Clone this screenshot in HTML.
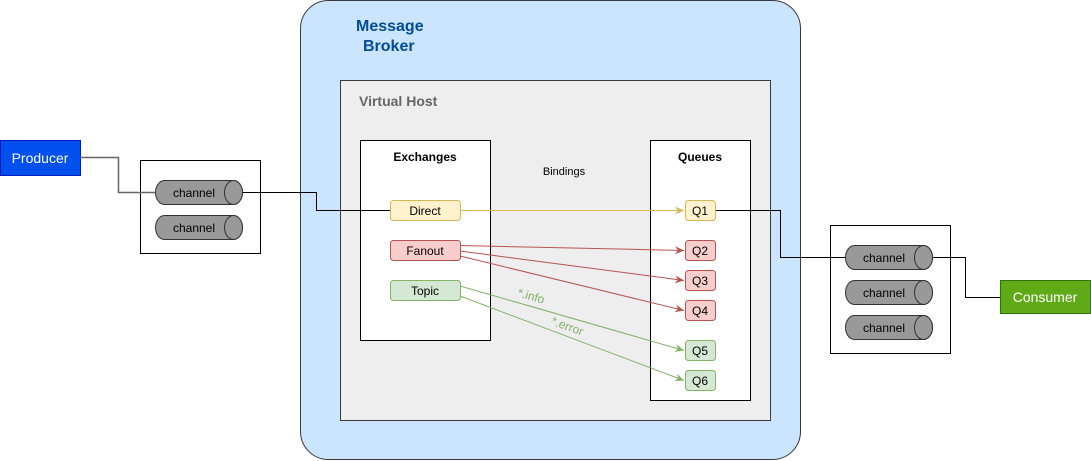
<!DOCTYPE html>
<html><head><style>html,body{margin:0;padding:0;background:#fff}svg{display:block;font-family:"Liberation Sans",Arial,sans-serif}</style></head><body>
<svg width="1091" height="461" viewBox="0 0 1091 461" xmlns="http://www.w3.org/2000/svg">
<defs>
<marker id="ay" markerWidth="10" markerHeight="10" refX="9" refY="5" orient="auto" markerUnits="userSpaceOnUse"><path d="M0,1 L9,5 L0,9 L3,5 z" fill="#d6b656"/></marker>
<marker id="ar" markerWidth="10" markerHeight="10" refX="9" refY="5" orient="auto" markerUnits="userSpaceOnUse"><path d="M0,1 L9,5 L0,9 L3,5 z" fill="#b85450"/></marker>
<marker id="ag" markerWidth="10" markerHeight="10" refX="9" refY="5" orient="auto" markerUnits="userSpaceOnUse"><path d="M0,1 L9,5 L0,9 L3,5 z" fill="#82b366"/></marker>
<g id="cyl"><path d="M9,0 H78 A9,12 0 0 1 78,24 H9 A9,12 0 0 1 9,0 Z" fill="#999" stroke="#333"/><ellipse cx="78" cy="12" rx="9" ry="12" fill="#999" stroke="#333"/></g>
</defs>
<rect x="300.5" y="0.5" width="500" height="459" rx="28" fill="#cce5ff" stroke="#36393d"/>
<text x="356" y="31" font-size="16" font-weight="bold" fill="#004C99">Message</text>
<text x="363" y="51" font-size="16" font-weight="bold" fill="#004C99">Broker</text>
<rect x="340.5" y="80.5" width="430" height="340" fill="#eeeeee" stroke="#36393d"/>
<text x="359" y="106" font-size="14" font-weight="bold" fill="#666">Virtual Host</text>
<rect x="360.5" y="140.5" width="130" height="200" fill="#fff" stroke="#000"/>
<text x="425" y="161" font-size="12" font-weight="bold" text-anchor="middle">Exchanges</text>
<rect x="650.5" y="140.5" width="100" height="260" fill="#fff" stroke="#000"/>
<text x="700" y="161" font-size="12" font-weight="bold" text-anchor="middle">Queues</text>
<text x="564" y="175" font-size="11" text-anchor="middle">Bindings</text>
<rect x="0.5" y="140.5" width="80" height="35" fill="#0050ef" stroke="#001DBC"/>
<text x="40" y="163" font-size="14" fill="#fff" text-anchor="middle">Producer</text>
<rect x="140.5" y="160.5" width="120" height="93" fill="#fff" stroke="#000"/>
<path d="M80,157.5 H118.5 V192.5 H155" fill="none" stroke="#666" stroke-width="1.5"/>
<path d="M242,192.5 H316.5 V210.5 H390" fill="none" stroke="#000"/>
<use href="#cyl" x="155.5" y="180.5"/><text x="194" y="197" font-size="12" text-anchor="middle">channel</text>
<use href="#cyl" x="155.5" y="215.5"/><text x="194" y="232" font-size="12" text-anchor="middle">channel</text>
<rect x="830.5" y="225.5" width="120" height="128" fill="#fff" stroke="#000"/>
<path d="M715,210.5 H780.5 V257.5 H845" fill="none" stroke="#000"/>
<path d="M932,257.5 H965.5 V297.5 H1000" fill="none" stroke="#000"/>
<use href="#cyl" x="845.5" y="245.5"/><text x="884" y="262" font-size="12" text-anchor="middle">channel</text>
<use href="#cyl" x="845.5" y="280.5"/><text x="884" y="297" font-size="12" text-anchor="middle">channel</text>
<use href="#cyl" x="845.5" y="315.5"/><text x="884" y="332" font-size="12" text-anchor="middle">channel</text>
<rect x="1000.5" y="280.5" width="90" height="33" fill="#60a917" stroke="#2D7600"/>
<text x="1045" y="302" font-size="14" fill="#fff" text-anchor="middle">Consumer</text>
<path d="M460,210.5 H684" stroke="#d6b656" marker-end="url(#ay)"/>
<path d="M460,245.5 L684,250.5" stroke="#b85450" marker-end="url(#ar)"/>
<path d="M460,251 L684,280.5" stroke="#b85450" marker-end="url(#ar)"/>
<path d="M460,256 L684,310.5" stroke="#b85450" marker-end="url(#ar)"/>
<path d="M460,286 L684,350.5" stroke="#82b366" marker-end="url(#ag)"/>
<path d="M460,296 L684,380.5" stroke="#82b366" marker-end="url(#ag)"/>
<text x="530" y="300" font-size="12" fill="#82b366" text-anchor="middle" transform="rotate(16 530 300)">*.info</text>
<text x="566" y="330" font-size="12" fill="#82b366" text-anchor="middle" transform="rotate(20 566 330)">*.error</text>
<rect x="390.5" y="200.5" width="70" height="20" rx="3" fill="#fff2cc" stroke="#d6b656"/><text x="425" y="215" font-size="12" text-anchor="middle">Direct</text>
<rect x="390.5" y="240.5" width="70" height="20" rx="3" fill="#f8cecc" stroke="#b85450"/><text x="425" y="255" font-size="12" text-anchor="middle">Fanout</text>
<rect x="390.5" y="280.5" width="70" height="20" rx="3" fill="#d5e8d4" stroke="#82b366"/><text x="425" y="295" font-size="12" text-anchor="middle">Topic</text>
<g font-size="12" text-anchor="middle">
<rect x="685.5" y="200.5" width="30" height="20" rx="3" fill="#fff2cc" stroke="#d6b656"/><text x="700" y="215">Q1</text>
<rect x="685.5" y="240.5" width="30" height="20" rx="3" fill="#f8cecc" stroke="#b85450"/><text x="700" y="255">Q2</text>
<rect x="685.5" y="270.5" width="30" height="20" rx="3" fill="#f8cecc" stroke="#b85450"/><text x="700" y="285">Q3</text>
<rect x="685.5" y="300.5" width="30" height="20" rx="3" fill="#f8cecc" stroke="#b85450"/><text x="700" y="315">Q4</text>
<rect x="685.5" y="340.5" width="30" height="20" rx="3" fill="#d5e8d4" stroke="#82b366"/><text x="700" y="355">Q5</text>
<rect x="685.5" y="370.5" width="30" height="20" rx="3" fill="#d5e8d4" stroke="#82b366"/><text x="700" y="385">Q6</text>
</g>
</svg>
</body></html>
